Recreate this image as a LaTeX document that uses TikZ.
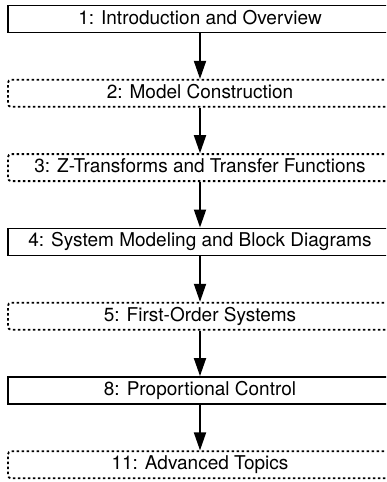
\documentclass[tikz,border=0pt]{standalone}
\usepackage{fontspec}
\setmainfont{TeX Gyre Heros}
\usetikzlibrary{arrows.meta}
\usetikzlibrary{positioning}

\begin{document}
\begin{tikzpicture}[x=1pt,y=1pt,
    chapter/.style={draw,line width=1.8pt,minimum width=384pt,minimum height=27pt,
      inner sep=0pt,font=\fontsize{19}{22}\selectfont,text height=14pt,text depth=4pt},
    optional/.style={chapter,dash pattern=on 2.5pt off 2.5pt,rounded corners=3pt},
    flow/.style={line width=1.8pt,-{Triangle[length=18pt,width=12pt]}},
    node distance=45.5pt]
  \useasboundingbox (0,0) rectangle (386,-482);
  \clip (0,0) rectangle (386,-482);
  % chapters
  \node[chapter] (ch1) at (200,-19) {1: Introduction and Overview};
  \node[optional,below=of ch1] (ch2) {2: Model Construction};
  \node[optional,below=of ch2] (ch3) {3: Z-Transforms and Transfer Functions};
  \node[chapter,below=of ch3] (ch4) {4: System Modeling and Block Diagrams};
  \node[optional,below=of ch4] (ch5) {5: First-Order Systems};
  \node[chapter,below=of ch5] (ch8) {8: Proportional Control};
  \node[optional,below=of ch8] (ch11) {11: Advanced Topics};
  % reading order
  \foreach \a/\b in {ch1/ch2,ch2/ch3,ch3/ch4,ch4/ch5,ch5/ch8,ch8/ch11}
    \draw[flow] (\a) -- (\b);
\end{tikzpicture}
\end{document}
